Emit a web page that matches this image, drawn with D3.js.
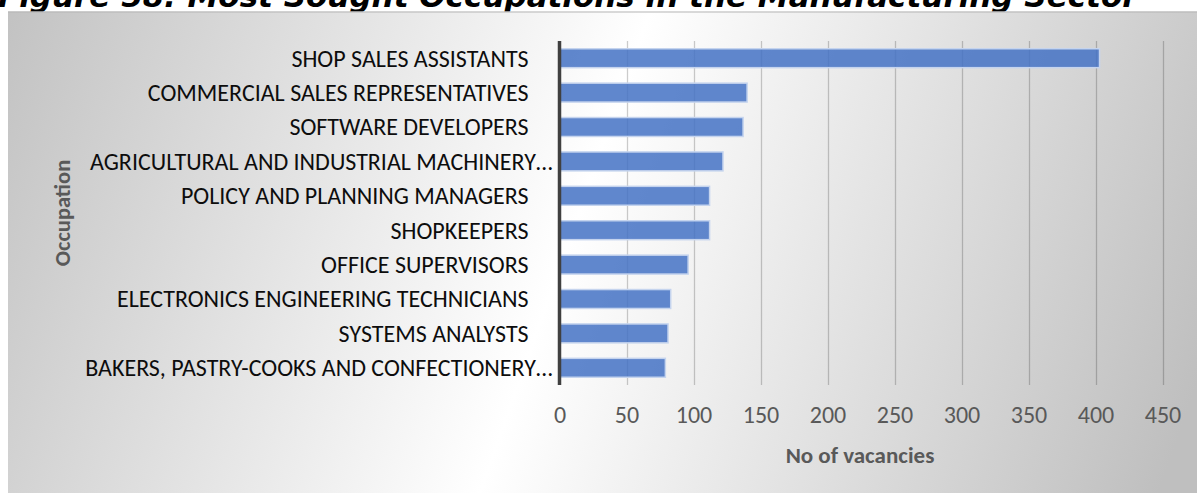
<!DOCTYPE html>
<html><head><meta charset="utf-8">
<script src="https://cdn.jsdelivr.net/npm/d3@7"></script>
<style>body{margin:0;background:#fff;overflow:hidden;} svg{display:block;}</style>
</head><body>
<svg id="c" width="1197" height="493"></svg>
<script>
const title = "Figure 58: Most Sought Occupations in the Manufacturing Sector";
const categories = [
  "SHOP SALES ASSISTANTS",
  "COMMERCIAL SALES REPRESENTATIVES",
  "SOFTWARE DEVELOPERS",
  "AGRICULTURAL AND INDUSTRIAL MACHINERY…",
  "POLICY AND PLANNING MANAGERS",
  "SHOPKEEPERS",
  "OFFICE SUPERVISORS",
  "ELECTRONICS ENGINEERING TECHNICIANS",
  "SYSTEMS ANALYSTS",
  "BAKERS, PASTRY-COOKS AND CONFECTIONERY…"
];
const vacancies = [403, 140, 137, 122, 112, 112, 96, 83, 81, 79];
const xTicks = [0, 50, 100, 150, 200, 250, 300, 350, 400, 450];
const xTitle = "No of vacancies";
const yTitle = "Occupation";

const svg = d3.select("#c");
const W = 1197, H = 493;
const plot = {left: 559.5, right: 1162.5, top: 41, bottom: 385};
const FONT = "Carlito, Lato, 'Open Sans', sans-serif";

// title (partly cut at the top, partly hidden by the chart box)
svg.append("text").attr("x", -2).attr("y", 7)
  .attr("font-family", "'DejaVu Sans', Verdana, sans-serif")
  .attr("font-weight", "bold").attr("font-style", "italic")
  .attr("font-size", 31).attr("fill", "#000").text(title);

// background gradient (tilted band, white in the middle)
const defs = svg.append("defs");
const cx = 565, cy = 252, half = 640;
const dx = 0.943, dy = 0.333;
const g = defs.append("linearGradient").attr("id", "bg")
  .attr("gradientUnits", "userSpaceOnUse")
  .attr("x1", cx - half * dx).attr("y1", cy - half * dy)
  .attr("x2", cx + half * dx).attr("y2", cy + half * dy);
[[0, "#bfbfbf"], [0.5, "#ffffff"], [1, "#bfbfbf"]].forEach(([o, c]) =>
  g.append("stop").attr("offset", o).attr("stop-color", c));

svg.append("rect").attr("x", 8).attr("y", 11.5).attr("width", W - 8).attr("height", H - 11.5)
  .attr("fill", "url(#bg)");
svg.append("line").attr("x1", 8).attr("x2", W).attr("y1", 12).attr("y2", 12)
  .attr("stroke", "#b5b5b5").attr("stroke-width", 1);

const x = d3.scaleLinear().domain([0, 450]).range([plot.left, plot.right]);
const y = d3.scaleBand().domain(categories).range([plot.top, plot.bottom])
  .paddingInner(0.45).paddingOuter(0.225);

// gridlines
svg.append("g").selectAll("line").data(xTicks.filter(d => d > 0)).join("line")
  .attr("x1", d => Math.round(x(d)) + 0.5).attr("x2", d => Math.round(x(d)) + 0.5)
  .attr("y1", plot.top).attr("y2", plot.bottom)
  .attr("stroke", "#000").attr("stroke-opacity", 0.2).attr("stroke-width", 1.3);

// bars
svg.append("g").selectAll("rect").data(vacancies).join("rect")
  .attr("x", x(0)).attr("y", (d, i) => y(categories[i]))
  .attr("width", d => x(d) - x(0)).attr("height", y.bandwidth())
  .attr("fill", "#4472c4").attr("fill-opacity", 0.85)
  .attr("stroke", "#c5d4ee").attr("stroke-width", 1.5);

// x axis tick labels
const xAxis = d3.axisBottom(x).tickValues(xTicks).tickSize(0).tickPadding(0);
const ax = svg.append("g").attr("transform", `translate(0, ${plot.bottom})`).call(xAxis);
ax.select(".domain").remove();
ax.selectAll("text").attr("font-family", FONT).attr("font-size", 24)
  .attr("fill", "#595959").attr("dy", null).attr("y", 38);

// category labels
svg.append("g").selectAll("text").data(categories).join("text")
  .attr("x", d => d.endsWith("…") ? plot.left - 7 : plot.left - 31)
  .attr("y", d => y(d) + y.bandwidth() / 2)
  .attr("dy", "0.35em").attr("text-anchor", "end")
  .attr("font-family", FONT).attr("font-size", 24).attr("fill", "#0d0d0d")
  .text(d => d);

// y axis line
svg.append("line").attr("x1", plot.left).attr("x2", plot.left)
  .attr("y1", plot.top).attr("y2", plot.bottom)
  .attr("stroke", "#404040").attr("stroke-width", 3.5);

// axis titles
svg.append("text").attr("x", 860).attr("y", 463).attr("text-anchor", "middle")
  .attr("font-family", FONT).attr("font-weight", "bold").attr("font-size", 23)
  .attr("fill", "#595959").text(xTitle);
svg.append("text").attr("transform", `translate(70, ${(plot.top + plot.bottom) / 2}) rotate(-90)`)
  .attr("text-anchor", "middle")
  .attr("font-family", FONT).attr("font-weight", "bold").attr("font-size", 22.5)
  .attr("fill", "#595959").text(yTitle);
</script>
</body></html>
